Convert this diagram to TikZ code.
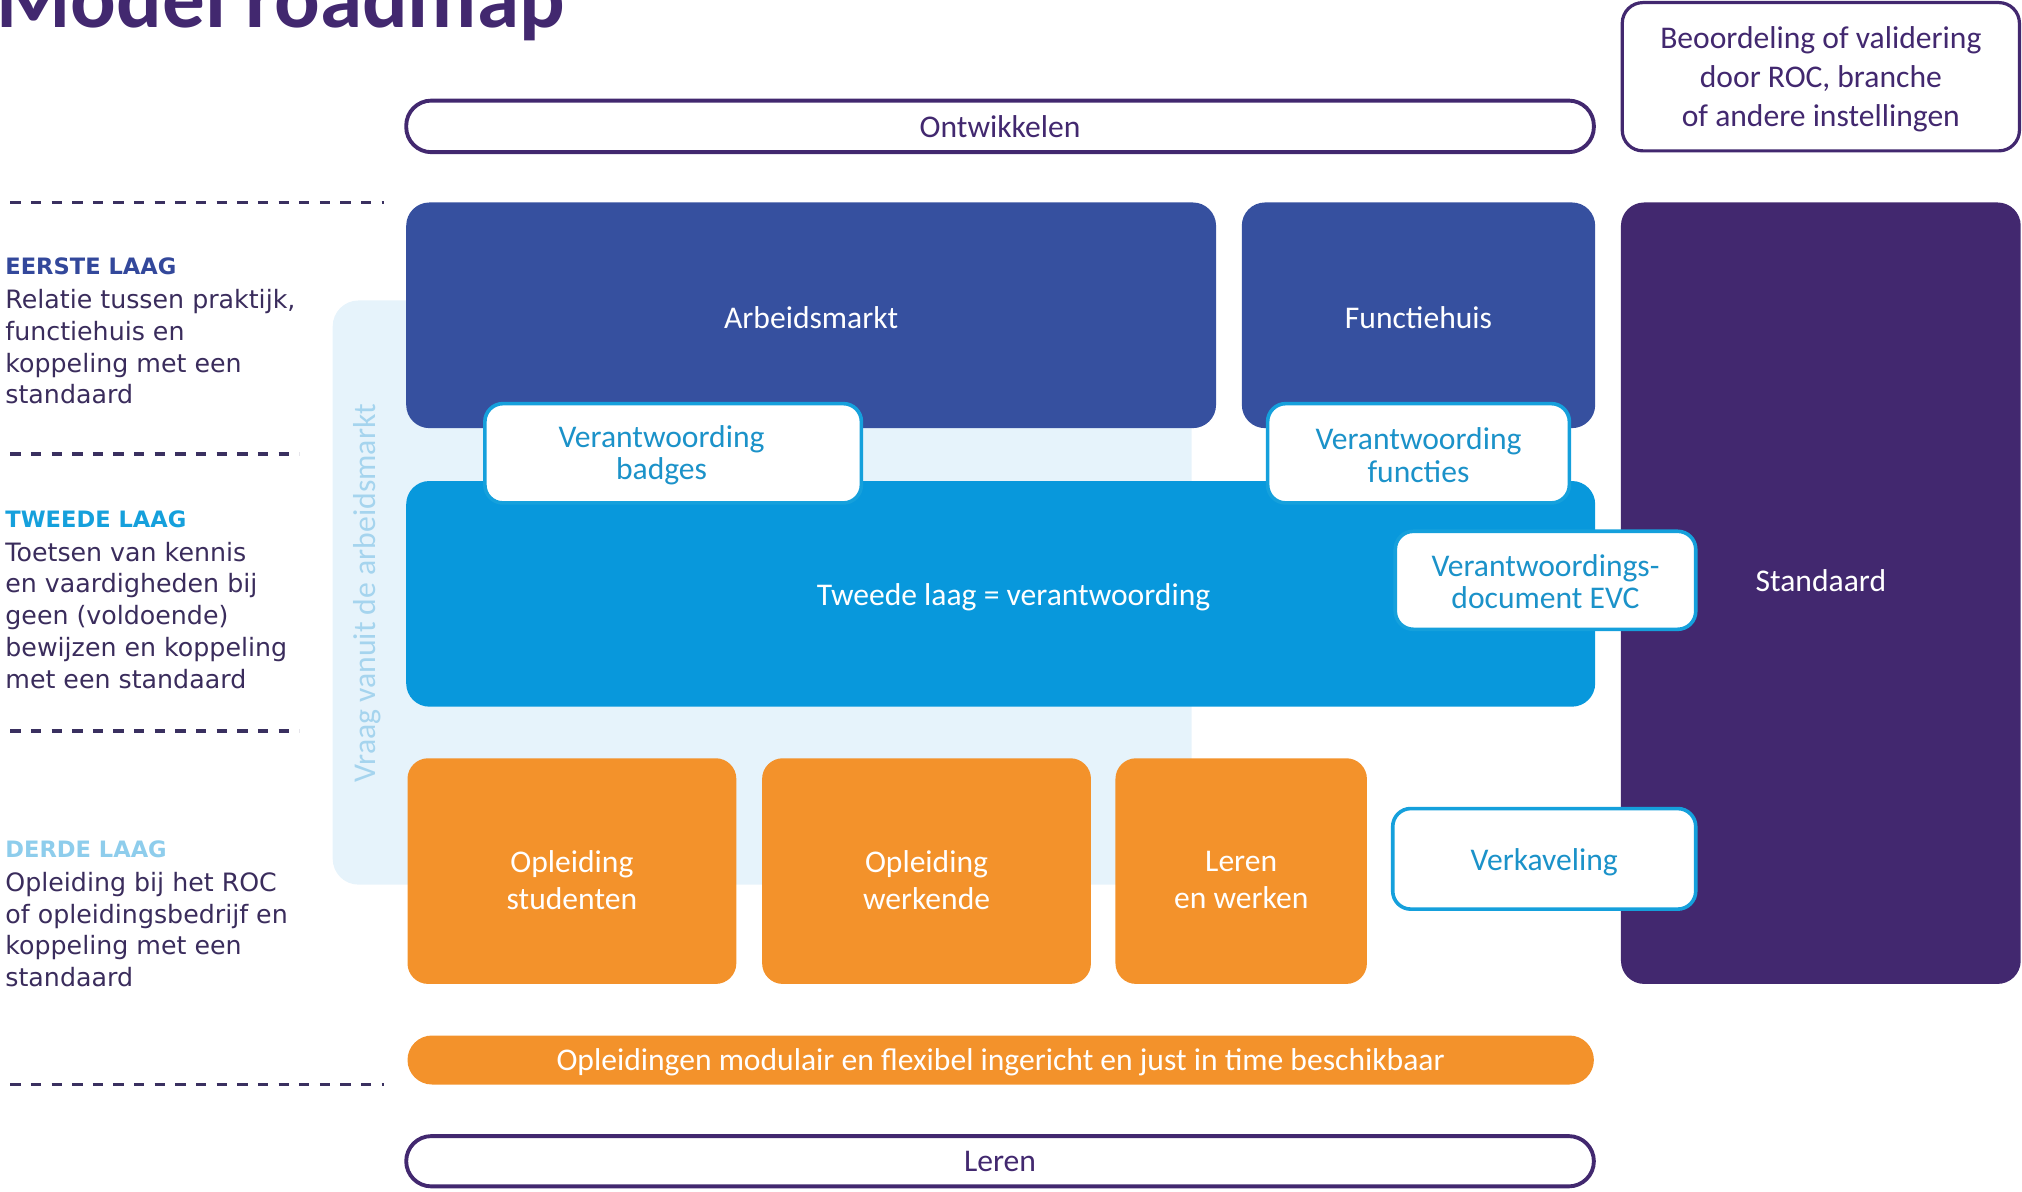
\documentclass[tikz,border=0pt]{standalone}
\usepackage{fontspec}
\setmainfont{Carlito}
\newfontfamily\leftfont{DejaVu Sans}
\definecolor{dpurple}{HTML}{42286F}
\definecolor{dblue}{HTML}{36509F}
\definecolor{bblue}{HTML}{0898DC}
\definecolor{orng}{HTML}{F3922B}
\definecolor{panelblue}{HTML}{E6F3FB}
\definecolor{cyantext}{HTML}{1B92C9}
\definecolor{leftbody}{HTML}{3A2C5C}
\definecolor{headone}{HTML}{33489B}
\definecolor{headtwo}{HTML}{15A0DC}
\definecolor{headthree}{HTML}{8ECDEC}
\definecolor{verttext}{HTML}{A5D4EE}
\definecolor{dashcol}{HTML}{3A3060}
\begin{document}
\begin{tikzpicture}[x=1pt,y=-1pt,
  box/.style={rectangle, inner sep=0pt, align=center, font=\fontsize{24.5}{25}\selectfont},
  bluebox/.style={box, fill=dblue, text=white, rounded corners=18pt},
  brightbox/.style={box, fill=bblue, text=white, rounded corners=18pt},
  orangebox/.style={box, fill=orng, text=white, rounded corners=16pt},
  whitebox/.style={box, fill=white, draw=headtwo, line width=2.8pt, text=cyantext, rounded corners=14pt},
  pill/.style={box, fill=white, draw=dpurple, line width=3pt, text=dpurple, rounded corners=19.5pt},
  plainlabel/.style={inner sep=0pt, align=center, font=\fontsize{24.5}{25}\selectfont},
  orangelabel/.style={plainlabel, text=white, font=\fontsize{24.5}{29}\selectfont},
  heading/.style={inner sep=0pt, anchor=base west, font=\leftfont\bfseries\fontsize{17.5}{24.7}\selectfont},
  body/.style={inner sep=0pt, anchor=north west, align=left, text=leftbody, font=\leftfont\fontsize{19.6}{24.7}\selectfont},
  dashline/.style={draw=dashcol, line width=3pt, dash pattern=on 8pt off 8pt}
]
\useasboundingbox (0,0) rectangle (1568,924);
\clip (0,0) rectangle (1568,924);

% title
\node[inner sep=0pt, anchor=base west, text=dpurple, font=\bfseries\fontsize{66}{70}\selectfont] (title) at (-3,21) {Model roadmap};

% top and bottom pills
\node[pill, minimum width=921, minimum height=40] (ontw) at (775.5,98) {Ontwikkelen};
\node[pill, minimum width=921, minimum height=39] (leren) at (775.5,900.5) {Leren};
\node[box, fill=white, draw=dpurple, line width=2.5pt, rounded corners=16pt,
      minimum width=308, minimum height=115] (beoord) at (1412,59.5) {};
\node[plainlabel, text=dpurple, font=\fontsize{24.5}{30}\selectfont] (beoordtxt) at (1412,61.5)
      {Beoordeling of validering\\door ROC, branche\\of andere instellingen};

% dashed separators
\draw[dashline] (8,157) -- (298,157);
\draw[dashline] (8,352) -- (232,352);
\draw[dashline] (8,567) -- (232,567);
\draw[dashline] (8,841) -- (298,841);

% left column
\node[heading, text=headone] (h1) at (4,213) {EERSTE LAAG};
\node[body] (b1) at (4,224) {Relatie tussen praktijk,\\functiehuis en\\koppeling met een\\standaard};
\node[heading, text=headtwo] (h2) at (4,409) {TWEEDE LAAG};
\node[body] (b2) at (4,420) {Toetsen van kennis\\en vaardigheden bij\\geen (voldoende)\\bewijzen en koppeling\\met een standaard};
\node[heading, text=headthree] (h3) at (4,665) {DERDE LAAG};
\node[body] (b3) at (4,676) {Opleiding bij het ROC\\of opleidingsbedrijf en\\koppeling met een\\standaard};

% light panel
\node[rectangle, fill=panelblue, rounded corners=20pt, minimum width=666, minimum height=453] (panel) at (591,459.5) {};
\node[inner sep=0pt, rotate=90, text=verttext, font=\fontsize{24.6}{26}\selectfont] (vraag) at (285,460) {Vraag vanuit de arbeidsmarkt};

% first layer
\node[bluebox, minimum width=628, minimum height=175] (arbeid) at (629,244.5) {};
\node[plainlabel, text=white] (arbeidtxt) at (629,246) {Arbeidsmarkt};
\node[bluebox, minimum width=274, minimum height=175] (functie) at (1100,244.5) {};
\node[plainlabel, text=white] (functietxt) at (1100,246) {Functiehuis};

% second layer
\node[brightbox, minimum width=922, minimum height=175] (tweede) at (776,460.5) {};
\node[plainlabel, text=white] (tweedetxt) at (786,463) {Tweede laag = verantwoording};

% standaard
\node[box, fill=dpurple, text=white, rounded corners=18pt, minimum width=310, minimum height=606] (standaard) at (1412,460) {};
\node[plainlabel, text=white] (standaardtxt) at (1412,450) {Standaard};

% white label boxes
\node[whitebox, minimum width=292, minimum height=77] (badges) at (522,351.5) {};
\node[plainlabel, text=cyantext] (badgestxt) at (513,353) {Verantwoording\\badges};
\node[whitebox, minimum width=234, minimum height=77] (functies) at (1100,351.5) {};
\node[plainlabel, text=cyantext] (functiestxt) at (1100,353) {Verantwoording\\functies};
\node[whitebox, minimum width=233, minimum height=76] (evc) at (1198.5,450) {};
\node[plainlabel, text=cyantext] (evctxt) at (1198.5,451) {Verantwoordings-\\document EVC};
\node[whitebox, minimum width=235, minimum height=78] (verkav) at (1197.5,666) {};
\node[plainlabel, text=cyantext] (verkavtxt) at (1197.5,669) {Verkaveling};

% third layer
\node[orangebox, minimum width=255, minimum height=175] (studenten) at (443.5,675.5) {};
\node[orangelabel] (studententxt) at (443.5,682.5) {Opleiding\\studenten};
\node[orangebox, minimum width=255, minimum height=175] (werkende) at (718.5,675.5) {};
\node[orangelabel] (werkendetxt) at (718.5,682.5) {Opleiding\\werkende};
\node[orangebox, minimum width=195, minimum height=175] (lerenwerken) at (962.5,675.5) {};
\node[orangelabel] (lerenwerkentxt) at (962.5,682.5) {Leren\\en werken};

% orange bar
\node[box, fill=orng, text=white, rounded corners=19pt, minimum width=920, minimum height=38] (modulair) at (776,822) {};
\node[plainlabel, text=white] (modulairtxt) at (776,823.5)
  {Opleidingen modulair en flexibel ingericht en just in time beschikbaar};
\end{tikzpicture}
\end{document}
